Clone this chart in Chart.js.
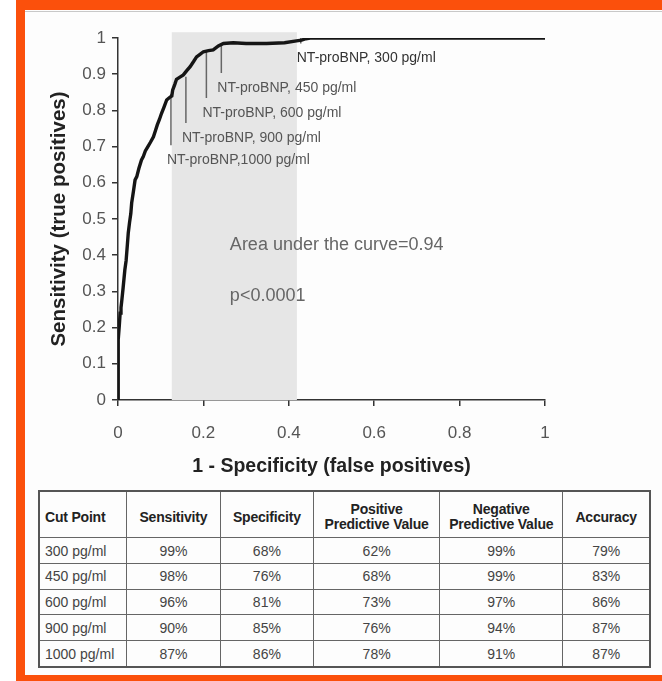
<!DOCTYPE html>
<html>
<head>
<meta charset="utf-8">
<script src="https://cdn.jsdelivr.net/npm/chart.js@4"></script>
<style>
  body { margin: 0; background: #fff; font-family: "Liberation Sans", Arial, sans-serif; }
  #frame {
    position: absolute; left: 16px; top: 0; width: 646px; height: 681px;
    box-sizing: border-box; background: #fdfdfd;
    border-top: 10px solid #fb500c; border-left: 9px solid #fb500c; border-bottom: 6px solid #fb500c;
  }
  #frame:before {
    content: ""; position: absolute; left: 0; right: 0; top: 1px; height: 1px; background: #c8c8c8;
  }
  #wrap { position: absolute; left: 0; top: 0; width: 662px; height: 482px; }
  table {
    position: absolute; left: 38px; top: 490px; width: 613px; height: 178px;
    border-collapse: collapse; border: 2px solid #555; font-size: 14px; color: #444;
  }
  th, td { border: 1px solid #666; padding: 0 5px; text-align: center; height: 24px; }
  th { font-weight: bold; color: #222; line-height: 15px; height: 39px; padding-top: 5px; letter-spacing: -0.2px; }
  th:first-child, td:first-child { text-align: left; }
</style>
</head>
<body>
<div id="frame"></div>
<div id="wrap"><canvas id="roc" width="662" height="482"></canvas></div>
<table id="cuts"></table>
<script>
// ROC curve: 1 - specificity vs sensitivity
const fpr = [0, 0.000, 0.001, 0.003, 0.005, 0.007, 0.009, 0.012, 0.016, 0.019, 0.022, 0.024, 0.027, 0.030, 0.032,
  0.036, 0.040, 0.044, 0.049, 0.055, 0.059, 0.064, 0.070, 0.076, 0.083, 0.088, 0.092, 0.097, 0.102, 0.108,
  0.114, 0.120, 0.126, 0.128, 0.133, 0.137, 0.145, 0.153, 0.161, 0.169, 0.177, 0.184, 0.192, 0.200, 0.212,
  0.223, 0.235, 0.247, 0.270, 0.300, 0.348, 0.390, 0.418, 0.430, 0.440, 0.450, 0.550, 0.650, 0.750, 0.850, 1.000];
const sens = [0, 0.080, 0.166, 0.205, 0.240, 0.255, 0.276, 0.310, 0.359, 0.385, 0.430, 0.461, 0.490, 0.515, 0.544,
  0.575, 0.608, 0.617, 0.640, 0.663, 0.672, 0.688, 0.700, 0.712, 0.727, 0.745, 0.760, 0.775, 0.792, 0.810,
  0.829, 0.835, 0.840, 0.856, 0.872, 0.886, 0.892, 0.898, 0.910, 0.921, 0.935, 0.948, 0.955, 0.962, 0.965,
  0.967, 0.978, 0.985, 0.987, 0.985, 0.985, 0.987, 0.992, 0.994, 0.998, 1.000, 1.000, 1.000, 1.000, 1.000, 1.000];

const xTicks = [0, 0.2, 0.4, 0.6, 0.8, 1];
const yTicks = [0, 0.1, 0.2, 0.3, 0.4, 0.5, 0.6, 0.7, 0.8, 0.9, 1];

// shaded band of cut points
const bandFrom = 0.126, bandTo = 0.419, bandTop = 1.016;

// cut point markers: position on the curve and end of the leader line
const cutLabels = ["NT-proBNP, 300 pg/ml", "NT-proBNP, 450 pg/ml", "NT-proBNP, 600 pg/ml",
  "NT-proBNP, 900 pg/ml", "NT-proBNP,1000 pg/ml"];
const cutX = [0.428, 0.242, 0.207, 0.159, 0.124];
const cutTop = [1.0, 0.985, 0.963, 0.893, 0.845];
const cutBottom = [0.985, 0.903, 0.834, 0.765, 0.704];

const aucText = "Area under the curve=0.94";
const pText = "p<0.0001";

// table
const tableHead = ["Cut Point", "Sensitivity", "Specificity", "Positive<br>Predictive Value", "Negative<br>Predictive Value", "Accuracy"];
const cutPoints = ["300 pg/ml", "450 pg/ml", "600 pg/ml", "900 pg/ml", "1000 pg/ml"];
const sensitivity = ["99%", "98%", "96%", "90%", "87%"];
const specificity = ["68%", "76%", "81%", "85%", "86%"];
const ppv = ["62%", "68%", "73%", "76%", "78%"];
const npv = ["99%", "99%", "97%", "94%", "91%"];
const accuracy = ["79%", "83%", "86%", "87%", "87%"];

const colWidths = [92, 88, 88, 134, 130, 81];
let html = "<tr>" + tableHead.map((h, i) => `<th style="width:${colWidths[i]}px">${h}</th>`).join("") + "</tr>";
cutPoints.forEach((c, i) => {
  html += `<tr><td>${c}</td><td>${sensitivity[i]}</td><td>${specificity[i]}</td><td>${ppv[i]}</td><td>${npv[i]}</td><td>${accuracy[i]}</td></tr>`;
});
document.getElementById("cuts").innerHTML = html;

const rocPoints = fpr.map((x, i) => ({ x: x, y: sens[i] }));
const leaderSets = cutX.map((x, i) => ({
  data: [{ x: x, y: cutTop[i] }, { x: x, y: cutBottom[i] }],
  showLine: true, borderColor: "#666", borderWidth: 1.5, pointRadius: 0, order: 2
}));

const bandPlugin = {
  id: "band",
  beforeDatasetsDraw(chart) {
    const { ctx, scales: { x, y } } = chart;
    ctx.save();
    ctx.fillStyle = "#e6e6e6";
    const l = x.getPixelForValue(bandFrom), r = x.getPixelForValue(bandTo);
    const t = y.getPixelForValue(bandTop), b = y.getPixelForValue(0);
    ctx.fillRect(l, t, r - l, b - t);
    ctx.restore();
  }
};

const textPlugin = {
  id: "texts",
  afterDatasetsDraw(chart) {
    const { ctx, scales: { x, y } } = chart;
    ctx.save();
    ctx.textBaseline = "top";
    ctx.textAlign = "left";
    ctx.font = "14px 'Liberation Sans', Arial";
    cutLabels.forEach((t, i) => {
      ctx.fillStyle = i === 0 ? "#333" : "#555";
      ctx.fillText(t, x.getPixelForValue(cutX[i]) - 4, y.getPixelForValue(cutBottom[i]) + 8);
    });
    ctx.font = "18px 'Liberation Sans', Arial";
    ctx.fillStyle = "#666";
    ctx.textBaseline = "middle";
    ctx.fillText(aucText, x.getPixelForValue(0.262), y.getPixelForValue(0.428));
    ctx.fillText(pText, x.getPixelForValue(0.262), y.getPixelForValue(0.288));
    ctx.restore();
  }
};

const plainTick = (v) => String(+Number(v).toFixed(1));

new Chart(document.getElementById("roc"), {
  type: "scatter",
  data: {
    datasets: [{
      data: rocPoints,
      showLine: true,
      borderColor: "#151515",
      borderWidth: 3.4,
      pointRadius: 0,
      tension: 0,
      order: 1
    }].concat(leaderSets)
  },
  options: {
    responsive: false,
    animation: false,
    events: [],
    layout: { padding: { left: 30, right: 117, top: 38, bottom: 0 } },
    plugins: { legend: { display: false }, tooltip: { enabled: false } },
    scales: {
      x: {
        type: "linear", min: 0, max: 1,
        afterBuildTicks: (s) => { s.ticks = xTicks.map((v) => ({ value: v })); },
        afterFit: (s) => { s.height = 82; },
        border: { color: "#333", width: 1.5 },
        grid: { drawOnChartArea: false, drawTicks: true, tickLength: 6, color: "#333", lineWidth: 1.5 },
        ticks: { padding: 17, color: "#555", callback: plainTick,
          font: { size: 17, family: "'Liberation Sans', Arial" }, maxRotation: 0 },
        title: { display: true, text: "1 - Specificity (false positives)", color: "#222",
          font: { size: 19.5, weight: "bold", family: "'Liberation Sans', Arial" }, padding: { top: 0, bottom: 4 } }
      },
      y: {
        type: "linear", min: 0, max: 1,
        afterBuildTicks: (s) => { s.ticks = yTicks.map((v) => ({ value: v })); },
        afterFit: (s) => { s.width = 88; },
        border: { color: "#333", width: 1.5 },
        grid: { drawOnChartArea: false, drawTicks: true, tickLength: 6, color: "#333", lineWidth: 1.5 },
        ticks: { padding: 6, color: "#555", callback: plainTick,
          font: { size: 17, family: "'Liberation Sans', Arial" } },
        title: { display: true, text: "Sensitivity (true positives)", color: "#222",
          font: { size: 20.5, weight: "bold", family: "'Liberation Sans', Arial" }, padding: { top: 17, bottom: 0 } }
      }
    }
  },
  plugins: [bandPlugin, textPlugin]
});
</script>
</body>
</html>
